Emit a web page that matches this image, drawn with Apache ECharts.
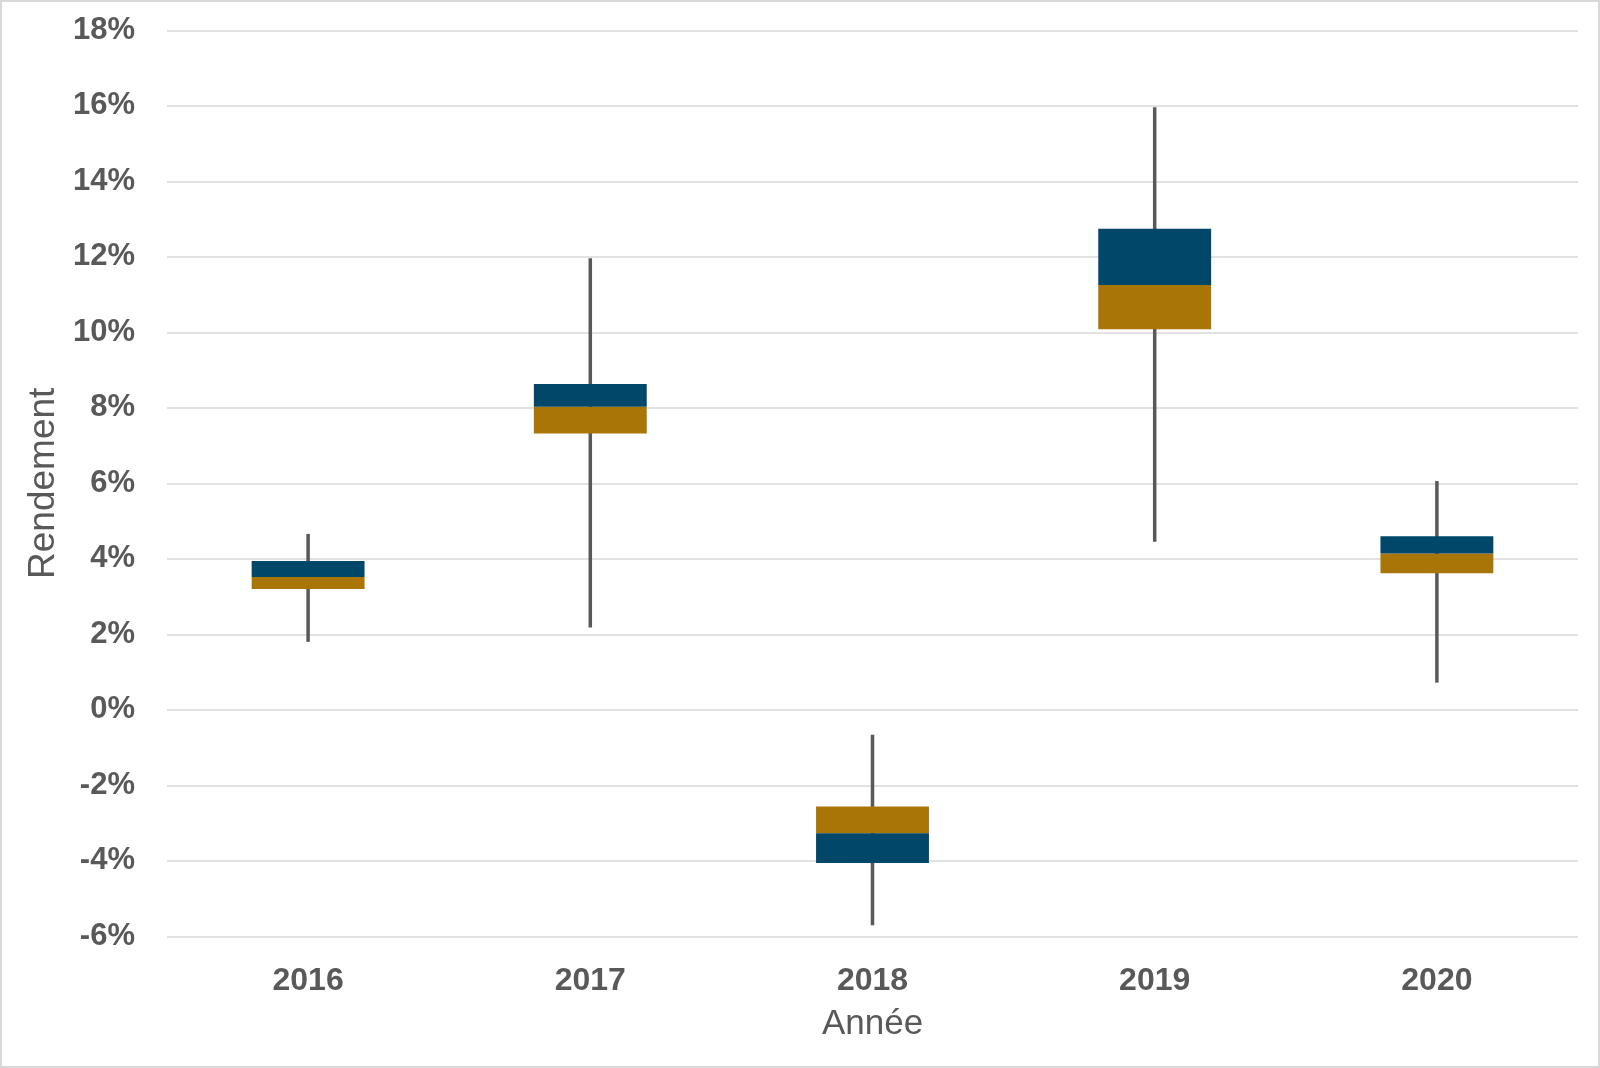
<!DOCTYPE html>
<html>
<head>
<meta charset="utf-8">
<script src="https://cdn.jsdelivr.net/npm/echarts@6/dist/echarts.min.js"></script>
<style>
html,body{margin:0;padding:0;background:#fff;}
#chart{width:1600px;height:1068px;box-sizing:border-box;border:2px solid #d9d9d9;}
</style>
</head>
<body>
<div id="chart"></div>
<script>
const years = ['2016', '2017', '2018', '2019', '2020'];
const boxStart = [3.20, 7.32, -2.56, 10.08, 3.62];
const medians = [3.52, 8.03, -3.27, 11.25, 4.14];
const boxEnd = [3.94, 8.63, -4.06, 12.74, 4.60];
const whiskerLow = [1.80, 2.18, -5.71, 4.45, 0.72];
const whiskerHigh = [4.66, 11.96, -0.66, 15.96, 6.06];
const yTicks = { min: -6, max: 18, interval: 2 };

const goldSeg = medians.map((m, i) => +(m - boxStart[i]).toFixed(4));
const blueSeg = boxEnd.map((e, i) => +(e - medians[i]).toFixed(4));

const textColor = '#595959';
const chart = echarts.init(document.getElementById('chart'));
chart.setOption({
  animation: false,
  grid: { left: 165, right: 20, top: 28.3, bottom: 129.7 },
  xAxis: {
    type: 'category',
    data: years,
    axisLine: { show: false },
    axisTick: { show: false },
    axisLabel: { color: textColor, fontFamily: 'Liberation Sans, Arial', fontWeight: 'bold', fontSize: 32, margin: 29 },
    name: 'Année',
    nameLocation: 'middle',
    nameGap: 71,
    nameTextStyle: { color: textColor, fontFamily: 'Liberation Sans, Arial', fontSize: 35 }
  },
  yAxis: {
    type: 'value',
    min: yTicks.min, max: yTicks.max, interval: yTicks.interval,
    axisLine: { show: false },
    axisTick: { show: false },
    splitLine: { lineStyle: { color: '#d9d9d9', width: 1.5 } },
    axisLabel: { color: textColor, fontFamily: 'Liberation Sans, Arial', fontWeight: 'bold', fontSize: 31, margin: 32, formatter: v => v + '%' },
    name: 'Rendement',
    nameLocation: 'middle',
    nameGap: 97,
    nameRotate: 90,
    nameTextStyle: { color: textColor, fontFamily: 'Liberation Sans, Arial', fontSize: 37 }
  },
  series: [
    {
      type: 'custom',
      z: 1,
      data: years.map((y, i) => [i, whiskerLow[i], whiskerHigh[i]]),
      renderItem: (params, api) => {
        const p1 = api.coord([api.value(0), api.value(1)]);
        const p2 = api.coord([api.value(0), api.value(2)]);
        return { type: 'line', shape: { x1: p1[0], y1: p1[1], x2: p2[0], y2: p2[1] }, style: { stroke: '#595959', lineWidth: 3.5 } };
      }
    },
    { type: 'bar', stack: 'box', barWidth: '40%', z: 2, data: boxStart, itemStyle: { color: 'rgba(0,0,0,0)' } },
    { type: 'bar', stack: 'box', barWidth: '40%', z: 2, data: goldSeg, itemStyle: { color: '#A87506' } },
    { type: 'bar', stack: 'box', barWidth: '40%', z: 2, data: blueSeg, itemStyle: { color: '#00476A' } }
  ]
});
</script>
</body>
</html>
